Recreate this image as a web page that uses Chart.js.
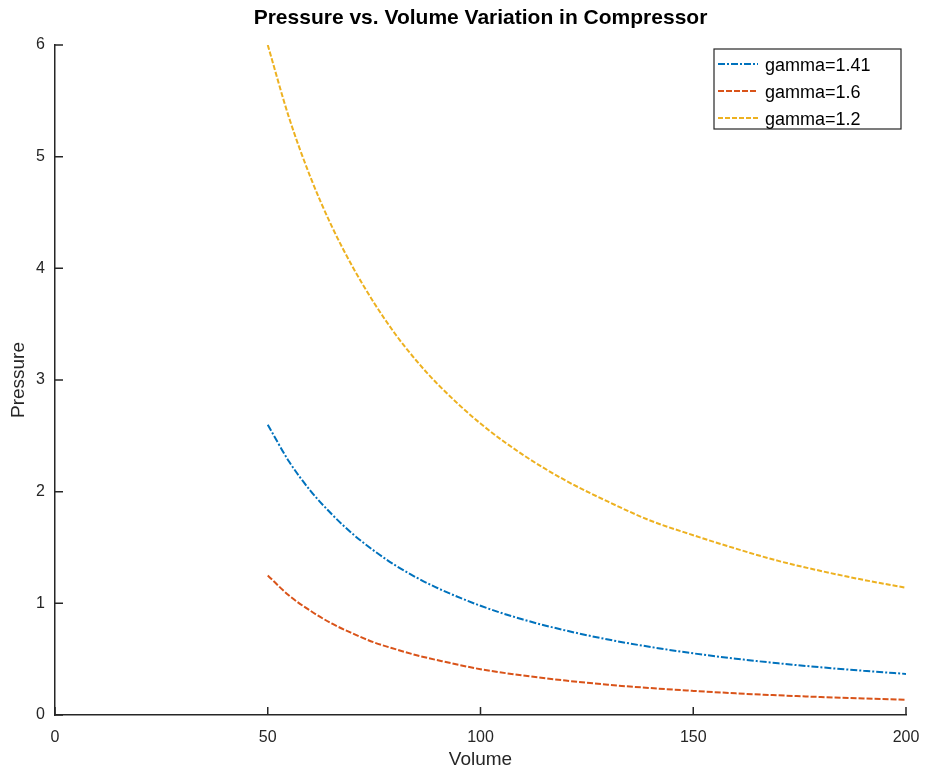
<!DOCTYPE html>
<html>
<head>
<meta charset="utf-8">
<title>Pressure vs. Volume</title>
<script src="https://cdn.jsdelivr.net/npm/chart.js@4"></script>
<style>
  body { margin: 0; background: #fff; }
  #wrap { width: 925px; height: 771px; }
</style>
</head>
<body>
<div id="wrap"><canvas id="pvChart" width="925" height="771"></canvas></div>
<script>
const volume = [50, 55, 60, 65, 70, 75, 80, 85, 90, 100, 110, 120, 130, 140, 150, 160, 170, 180, 190, 200];
const pressure141 = [2.60, 2.27, 2.01, 1.80, 1.62, 1.47, 1.34, 1.23, 1.135, 0.978, 0.855, 0.757, 0.676, 0.609, 0.552, 0.504, 0.463, 0.427, 0.396, 0.368];
const pressure16 = [1.25, 1.07, 0.934, 0.82, 0.73, 0.65, 0.59, 0.535, 0.49, 0.41, 0.354, 0.308, 0.271, 0.241, 0.216, 0.194, 0.176, 0.161, 0.148, 0.136];
const pressure12 = [6.0, 5.35, 4.82, 4.38, 4.01, 3.69, 3.41, 3.17, 2.96, 2.61, 2.33, 2.10, 1.91, 1.74, 1.61, 1.49, 1.38, 1.29, 1.21, 1.14];
const seriesLabels = ["gamma=1.41", "gamma=1.6", "gamma=1.2"];
const xTicks = [0, 50, 100, 150, 200];
const yTicks = [0, 1, 2, 3, 4, 5, 6];

const axisColor = "#262626";
const fontFamily = "'Liberation Sans', Arial, Helvetica, sans-serif";

const toPoints = (ys) => volume.map((v, i) => ({ x: v, y: ys[i] }));

// matlab-style inward tick marks on the left and bottom axes
const inwardTicks = {
    id: "inwardTicks",
    afterDatasetsDraw(chart) {
        const { ctx, chartArea, scales } = chart;
        const len = 8;
        ctx.save();
        ctx.strokeStyle = axisColor;
        ctx.lineWidth = 1.5;
        ctx.beginPath();
        xTicks.forEach(t => {
            const px = scales.x.getPixelForValue(t);
            ctx.moveTo(px, chartArea.bottom);
            ctx.lineTo(px, chartArea.bottom - len);
        });
        yTicks.forEach(t => {
            const py = scales.y.getPixelForValue(t);
            ctx.moveTo(chartArea.left, py);
            ctx.lineTo(chartArea.left + len, py);
        });
        ctx.stroke();
        ctx.restore();
    }
};

// boxed legend in the upper right corner of the plot
const boxLegend = {
    id: "boxLegend",
    afterDraw(chart) {
        const { ctx, chartArea } = chart;
        const w = 187, h = 80;
        const x0 = chartArea.right - w - 5;
        const y0 = chartArea.top + 4;
        ctx.save();
        ctx.fillStyle = "#fff";
        ctx.fillRect(x0, y0, w, h);
        ctx.strokeStyle = "#262626";
        ctx.lineWidth = 1.2;
        ctx.strokeRect(x0, y0, w, h);
        ctx.font = "18px " + fontFamily;
        ctx.textBaseline = "middle";
        ctx.fillStyle = "#000";
        chart.data.datasets.forEach((ds, i) => {
            const y = y0 + 15 + i * 27;
            ctx.beginPath();
            ctx.setLineDash(ds.borderDash);
            ctx.strokeStyle = ds.borderColor;
            ctx.lineWidth = ds.borderWidth;
            ctx.moveTo(x0 + 4, y);
            ctx.lineTo(x0 + 44, y);
            ctx.stroke();
            ctx.setLineDash([]);
            ctx.fillText(ds.label, x0 + 51, y + 2);
        });
        ctx.restore();
    }
};

const ctx = document.getElementById("pvChart").getContext("2d");

const data = {
    datasets: [
        {
            label: seriesLabels[0],
            data: toPoints(pressure141),
            borderColor: "#0072BD",
            borderWidth: 2,
            borderDash: [7, 2, 2, 2]
        },
        {
            label: seriesLabels[1],
            data: toPoints(pressure16),
            borderColor: "#D95319",
            borderWidth: 2,
            borderDash: [6, 2]
        },
        {
            label: seriesLabels[2],
            data: toPoints(pressure12),
            borderColor: "#EDB120",
            borderWidth: 2,
            borderDash: [5, 2]
        }
    ]
};

const config = {
    type: "line",
    data: data,
    options: {
        responsive: false,
        animation: false,
        layout: { padding: { left: 0, right: 19, top: 0, bottom: 0 } },
        elements: {
            point: { radius: 0 },
            line: { cubicInterpolationMode: "monotone", fill: false }
        },
        plugins: {
            legend: { display: false },
            tooltip: { enabled: false }
        },
        scales: {
            // empty top axis that carries the plot title, centred over the plot box
            top: {
                type: "linear",
                position: "top",
                min: 0,
                max: 200,
                afterFit: (scale) => {
                    scale.height = 45;
                    scale.paddingLeft = 0;
                    scale.paddingRight = 0;
                },
                grid: { display: false, drawTicks: false },
                border: { display: false },
                ticks: { display: false },
                title: {
                    display: true,
                    text: "Pressure vs. Volume Variation in Compressor",
                    color: "#000",
                    font: { family: fontFamily, size: 21, weight: "bold" },
                    padding: { top: 6, bottom: 0 }
                }
            },
            x: {
                type: "linear",
                position: "bottom",
                min: 0,
                max: 200,
                afterFit: (scale) => {
                    scale.height = 56;
                    scale.paddingLeft = 0;
                    scale.paddingRight = 0;
                },
                afterBuildTicks: (scale) => { scale.ticks = xTicks.map(v => ({ value: v })); },
                grid: { display: false, drawTicks: false },
                border: { display: true, color: axisColor, width: 1.5 },
                ticks: {
                    color: axisColor,
                    padding: 13,
                    maxRotation: 0,
                    font: { family: fontFamily, size: 16 }
                },
                title: {
                    display: true,
                    text: "Volume",
                    color: axisColor,
                    font: { family: fontFamily, size: 19 },
                    padding: { top: 0, bottom: 0 }
                }
            },
            y: {
                min: 0,
                max: 6,
                afterFit: (scale) => { scale.width = 55; },
                afterBuildTicks: (scale) => { scale.ticks = yTicks.map(v => ({ value: v })); },
                grid: { display: false, drawTicks: false },
                border: { display: true, color: axisColor, width: 1.5 },
                ticks: {
                    color: axisColor,
                    padding: 10,
                    font: { family: fontFamily, size: 16 }
                },
                title: {
                    display: true,
                    text: "Pressure",
                    color: axisColor,
                    font: { family: fontFamily, size: 19 },
                    padding: { top: 7, bottom: 0 }
                }
            }
        }
    },
    plugins: [inwardTicks, boxLegend]
};

const chart = new Chart(ctx, config);
</script>
</body>
</html>
